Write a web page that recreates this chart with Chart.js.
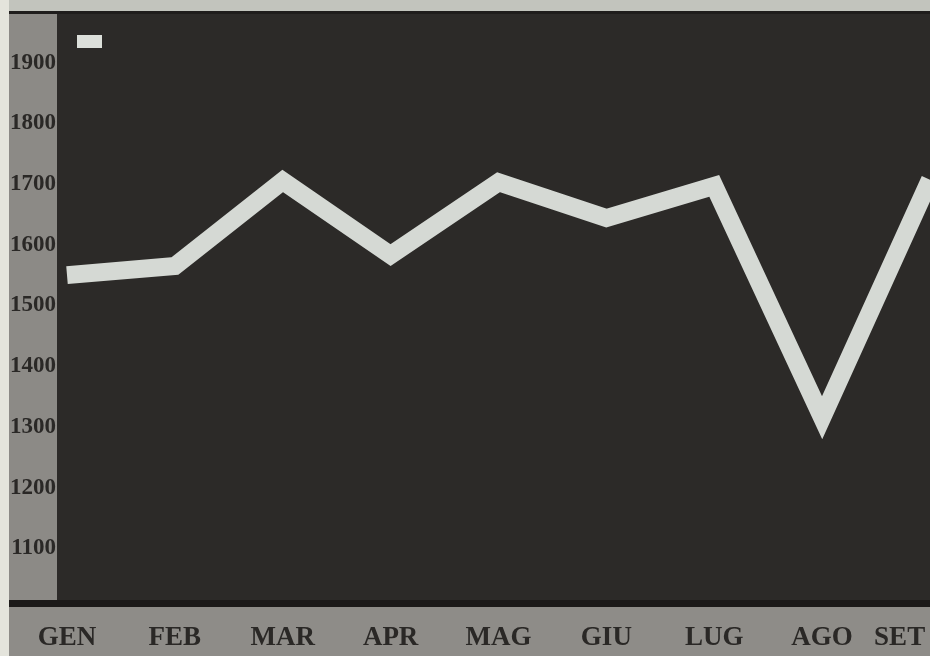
<!DOCTYPE html>
<html>
<head>
<meta charset="utf-8">
<script src="https://cdn.jsdelivr.net/npm/chart.js@4/dist/chart.umd.min.js"></script>
<style>
  html, body { margin: 0; padding: 0; background: #e4e4dc; }
  canvas { display: block; }
</style>
</head>
<body>
<canvas id="myChart" width="930" height="656"></canvas>
<script>
// data
const months = ['GEN', 'FEB', 'MAR', 'APR', 'MAG', 'GIU', 'LUG', 'AGO', 'SET'];
const values = [1550, 1565, 1705, 1583, 1703, 1644, 1697, 1315, 1707];
const yTicks = [1100, 1200, 1300, 1400, 1500, 1600, 1700, 1800, 1900];

// paper, grey strips and the dark plot area
const backdrop = {
    id: 'backdrop',
    beforeDraw(chart) {
        const ctx = chart.ctx;
        const a = chart.chartArea;
        const w = chart.width, h = chart.height;
        ctx.save();
        ctx.fillStyle = '#e4e4dc';
        ctx.fillRect(0, 0, w, h);
        ctx.fillStyle = '#c2c4bd';
        ctx.fillRect(9, 0, w - 9, a.top - 3);
        ctx.fillStyle = '#1f1d1c';
        ctx.fillRect(9, a.top - 3, w - 9, 3);
        ctx.fillStyle = '#8c8a86';
        ctx.fillRect(9, a.top, 48, a.bottom - a.top - 3);
        ctx.fillStyle = '#2c2a28';
        ctx.fillRect(57, a.top, w - 57, a.bottom - a.top);
        ctx.fillStyle = '#1c1a19';
        ctx.fillRect(9, a.bottom - 3, w - 9, 7);
        ctx.fillStyle = '#8e8c88';
        ctx.fillRect(9, a.bottom + 4, w - 9, h - a.bottom - 4);
        ctx.restore();
    }
};

const data = {
    labels: months,
    datasets: [{
        label: '',
        data: values,
        borderColor: '#d5d9d4',
        borderWidth: 18,
        borderJoinStyle: 'miter',
        borderCapStyle: 'butt',
        pointRadius: 0,
        tension: 0,
        fill: false
    }]
};

const scales = {
    x: {
        offset: false,
        grid: { display: false, drawTicks: false },
        border: { display: false },
        ticks: {
            maxRotation: 0,
            autoSkip: false,
            padding: 19,
            color: '#2a2826',
            font: { family: '"Liberation Serif", serif', weight: 'bold', size: 27 },
            // last label sits a bit left of its point, as in the photo
            callback: function (value, index) {
                return index === months.length - 1 ? months[index] + '\u00a0'.repeat(9) : months[index];
            }
        },
        afterFit(scale) {
            scale.height = 53;
            scale.paddingLeft = 0;
            scale.paddingRight = 0;
        }
    },
    y: {
        min: 1010,
        max: 1980,
        grid: { display: false, drawTicks: false },
        border: { display: false },
        afterBuildTicks(scale) {
            scale.ticks = yTicks.map(v => ({ value: v }));
        },
        ticks: {
            padding: 11,
            color: '#2a2826',
            font: { family: '"Liberation Serif", serif', weight: 'bold', size: 23 },
            callback: function (value) {
                return '' + value;
            }
        },
        afterFit(scale) {
            scale.width = 67;
            scale.paddingTop = 0;
            scale.paddingBottom = 0;
        }
    }
};

const config = {
    type: 'line',
    data,
    options: {
        responsive: false,
        animation: false,
        layout: { padding: { top: 14, right: 0, bottom: 0, left: 0 } },
        scales: scales,
        plugins: {
            legend: {
                display: true,
                position: 'chartArea',
                align: 'start',
                labels: {
                    boxWidth: 25,
                    boxHeight: 13,
                    padding: 10,
                    font: { size: 63 },
                    generateLabels() {
                        return [{
                            text: '',
                            fillStyle: '#dcdfda',
                            strokeStyle: '#dcdfda',
                            lineWidth: 0,
                            hidden: false,
                            datasetIndex: 0
                        }];
                    }
                }
            },
            tooltip: { enabled: false }
        }
    },
    plugins: [backdrop]
};

const myChart = new Chart(document.getElementById('myChart'), config);
</script>
</body>
</html>
